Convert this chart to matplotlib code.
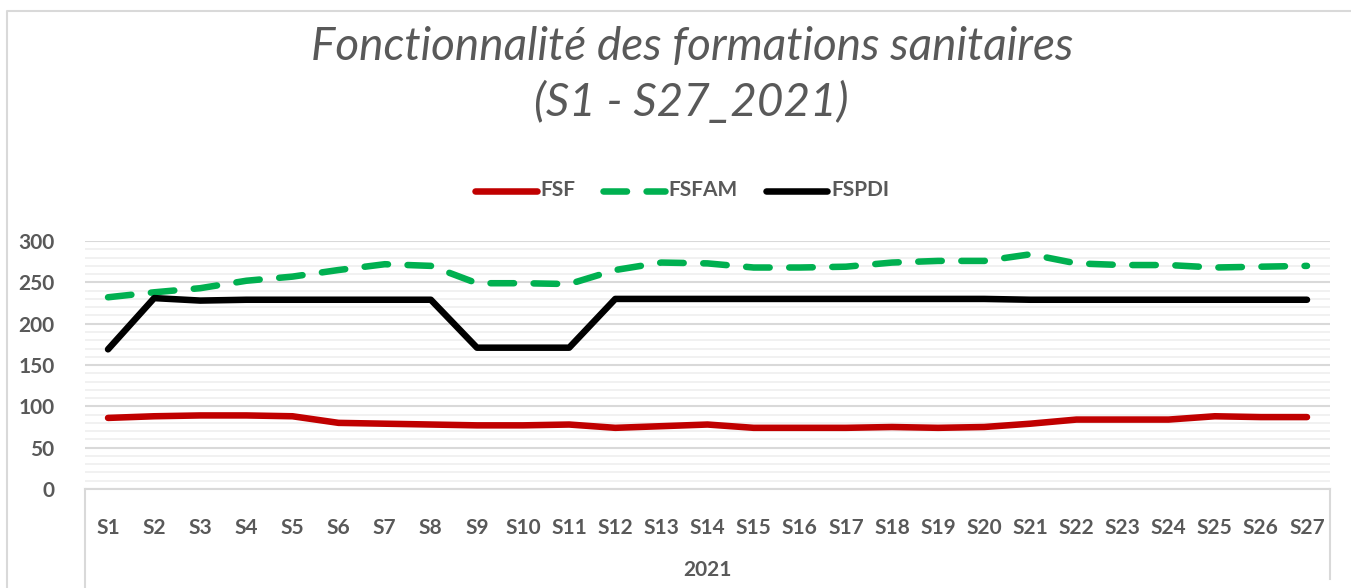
import matplotlib.pyplot as plt
import matplotlib.lines as mlines
import numpy as np

# données
semaines = ["S%d" % i for i in range(1, 28)]
fsf = [86, 88, 89, 89, 88, 80, 79, 78, 77, 77, 78, 74, 76, 78, 74, 74, 74, 75, 74, 75, 79, 84, 84, 84, 88, 87, 87]
fsfam = [232, 238, 243, 252, 257, 265, 272, 270, 249, 249, 248, 265, 274, 273, 268, 268, 269, 274, 276, 276, 284, 273, 271, 271, 268, 269, 270]
fspdi = [169, 231, 228, 229, 229, 229, 229, 229, 171, 171, 171, 230, 230, 230, 230, 230, 230, 230, 230, 230, 229, 229, 229, 229, 229, 229, 229]

gris = "#595959"
plt.rcParams['font.family'] = ['Lato', 'DejaVu Sans']

fig = plt.figure(figsize=(13.51, 5.88), dpi=100)
ax = fig.add_axes([0.0629, 0.1684, 0.9216, 0.4216])

x = np.arange(len(semaines))
ax.plot(x, fsf, color="#c00000", lw=4.7, solid_capstyle="round", label="FSF")
ax.plot(x, fsfam, color="#00b050", lw=4.7, dashes=(3.6, 3.0), dash_capstyle="round", label="FSFAM")
ax.plot(x, fspdi, color="black", lw=4.7, solid_capstyle="round", label="FSPDI")

ax.set_xlim(-0.5, len(semaines) - 0.5)
ax.set_ylim(0, 300)
ax.set_yticks(np.arange(0, 301, 50))
ax.set_yticks(np.arange(0, 301, 10), minor=True)
ax.grid(axis="y", which="major", color="#d9d9d9", lw=1.5)
ax.grid(axis="y", which="minor", color="#f0f0f0", lw=1.3)
ax.set_axisbelow(True)
for s in ["top", "right", "left"]:
    ax.spines[s].set_visible(False)
ax.spines["bottom"].set_color("#d9d9d9")
ax.spines["bottom"].set_linewidth(1.5)

ax.set_xticks(x)
ax.set_xticklabels(semaines)
ax.tick_params(axis="both", which="both", length=0, colors=gris, labelsize=15)
ax.tick_params(axis="x", pad=21)
ax.tick_params(axis="y", pad=22)
for t in ax.get_xticklabels() + ax.get_yticklabels():
    t.set_fontweight("bold")
ax.set_xlabel("2021", color=gris, fontsize=15, fontweight="bold", labelpad=16)

# boîte de l'axe des catégories
fig.add_artist(mlines.Line2D([0.0629, 0.0629], [0.1684, 0.0], color="#d9d9d9", lw=1.5))
fig.add_artist(mlines.Line2D([0.9845, 0.9845], [0.1684, 0.015], color="#d9d9d9", lw=1.5))
# bordure du graphique
fig.add_artist(mlines.Line2D([0.0055, 0.0055, 1.0], [0.0, 0.981, 0.981], color="#d9d9d9", lw=1.5))

fig.text(0.512, 0.92, "Fonctionnalité des formations sanitaires", ha="center", va="center",
         fontsize=33, style="italic", color=gris)
fig.text(0.512, 0.825, "(S1 - S27_2021)", ha="center", va="center",
         fontsize=33, style="italic", color=gris)

leg = fig.legend(loc="center", bbox_to_anchor=(0.505, 0.677), ncol=3, frameon=False,
                 handlelength=4.4, columnspacing=2.0, handletextpad=0.3)
for t in leg.get_texts():
    t.set_color(gris)
    t.set_fontsize(15)
    t.set_fontweight("bold")

fig.savefig("out.png", dpi=100)
